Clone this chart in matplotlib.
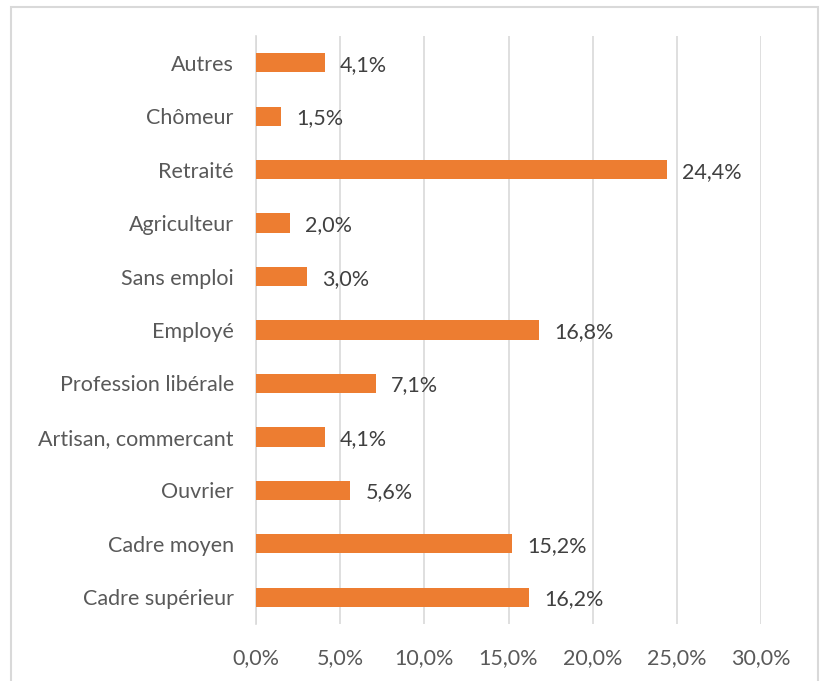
import matplotlib.pyplot as plt
from matplotlib.patches import Rectangle
from matplotlib.ticker import FuncFormatter

categories = ['Cadre supérieur', 'Cadre moyen', 'Ouvrier', 'Artisan, commercant',
              'Profession libérale', 'Employé', 'Sans emploi', 'Agriculteur',
              'Retraité', 'Chômeur', 'Autres']
values = [16.2, 15.2, 5.6, 4.1, 7.1, 16.8, 3.0, 2.0, 24.4, 1.5, 4.1]
xticks = [0, 5, 10, 15, 20, 25, 30]

plt.rcParams['font.family'] = ['Lato', 'DejaVu Sans']

fig = plt.figure(figsize=(8.22, 6.81), dpi=100)
ax = fig.add_axes([256 / 822, 57 / 681, 505 / 822, 588 / 681])

# Frame around the chart (bottom edge is cut off)
fig.patches.append(Rectangle((11 / 822, -0.05), 807 / 822, 1.05 - 7 / 681,
                             transform=fig.transFigure, fill=False,
                             edgecolor='#D9D9D9', linewidth=1.5))

y = range(len(categories))
ax.barh(y, values, height=0.36, color='#ED7D31', zorder=3)
for i, v in zip(y, values):
    ax.text(v + 0.9, i - 0.04, "{:.1f}%".format(v).replace('.', ','), va='center',
            ha='left', fontsize=15.5, color='#404040')

ax.set_xlim(0, 30)
ax.set_ylim(-0.5, len(categories) - 0.5)
ax.set_xticks(xticks)
ax.xaxis.set_major_formatter(FuncFormatter(lambda x, p: "{:.1f}%".format(x).replace('.', ',')))
ax.set_yticks(list(y))
ax.set_yticklabels(categories)
ax.tick_params(axis='both', length=0, labelsize=15.5, labelcolor='#595959')
ax.tick_params(axis='y', pad=16)
ax.tick_params(axis='x', pad=17)
ax.grid(axis='x', color='#D9D9D9', linewidth=1.2, zorder=0)
for s in ['top', 'right', 'bottom']:
    ax.spines[s].set_visible(False)
ax.spines['left'].set_color('#D9D9D9')
ax.spines['left'].set_linewidth(1.2)

plt.savefig('out.png', dpi=100)
plt.close()
